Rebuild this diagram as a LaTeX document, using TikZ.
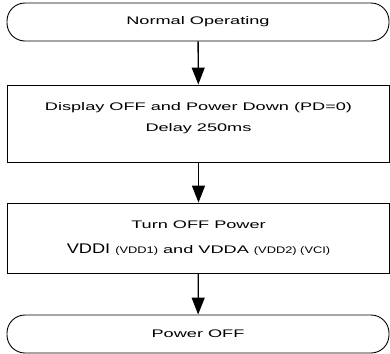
\documentclass[tikz,border=0pt]{standalone}
\usepackage{fontspec}
\usetikzlibrary{arrows.meta,positioning}
\newfontfamily\flowfont[FakeStretch=1.65]{Liberation Sans}
\newfontfamily\vddfont[FakeStretch=1.3]{Liberation Sans}
\newfontfamily\pinfont[FakeStretch=1.35]{Liberation Sans}
\begin{document}
\begin{tikzpicture}[
    x=1bp, y=-1bp,
    font=\flowfont\fontsize{11bp}{14bp}\selectfont,
    term/.style={draw, line width=0.9bp, rounded corners=18bp,
        minimum width=382bp, minimum height=38bp, inner sep=0pt},
    proc/.style={draw, line width=0.9bp, align=center,
        minimum width=382bp, inner sep=0pt},
    flow/.style={-{Triangle[length=17bp,width=13bp]}, line width=1.3bp}
]
\useasboundingbox (0,0) rectangle (390,354);
\node[term] (norm) at (198,22) {Normal Operating};
\node[proc, minimum height=77bp] (pd) at (198.5,123.5)
  {Display OFF and Power Down (PD=0)\\[7bp]Delay 250ms\\[-2bp]\mbox{}};
\node[proc, minimum height=70bp] (poff) at (198.5,238)
  {Turn OFF Power\\[11bp]{\vddfont\fontsize{14bp}{16bp}\selectfont VDDI}
   {\pinfont\fontsize{9.5bp}{12bp}\selectfont (VDD1)} and VDDA
   {\pinfont\fontsize{9.5bp}{12bp}\selectfont (VDD2) (VCI)}};
\node[term] (end) at (198,334) {Power OFF};
\foreach \a/\b in {norm/pd, pd/poff, poff/end}
  \draw[flow] (\a) -- (\b);
\end{tikzpicture}
\end{document}
